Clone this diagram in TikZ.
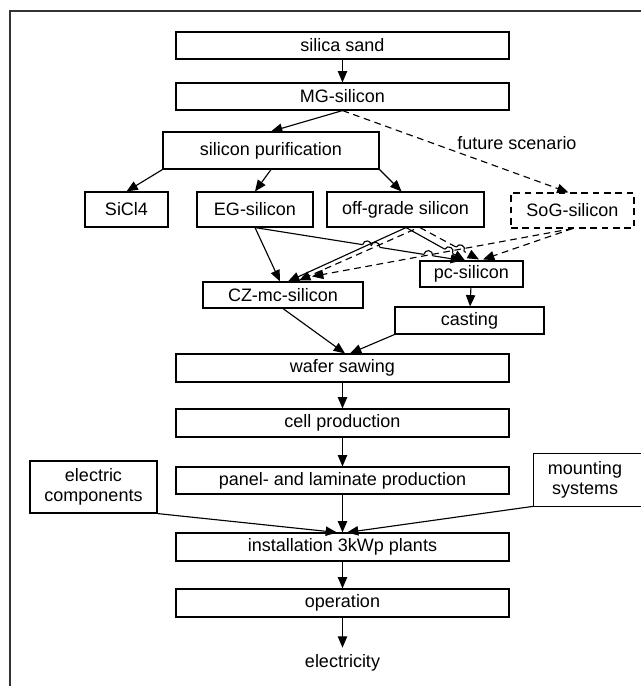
\documentclass[tikz,border=0pt]{standalone}
\usepackage{fontspec}
\setmainfont{Liberation Sans}
\usetikzlibrary{arrows.meta,calc,intersections}
\newcommand\linehop[4]{%
  \path[name intersections={of=#1 and #2, by=hp}];
  \coordinate (hA) at ($(hp)!3.3pt!(#3)$);
  \coordinate (hB) at ($(hp)!3.3pt!(#4)$);
  \draw[white,line width=2.8pt] (hA) -- (hB);
  \draw[line width=0.85pt] (hA) .. controls ($(hA)!4.4pt!90:(hB)$) and ($(hB)!4.4pt!-90:(hA)$) .. (hB);
}
\begin{document}
\begin{tikzpicture}[x=0.75pt,y=-0.75pt,
  font=\fontsize{13.5pt}{15pt}\selectfont,
  every node/.style={inner sep=0pt},
  box/.style 2 args={draw=black,line width=0.85pt,rectangle,align=center,
    minimum width=#1*0.75pt,minimum height=#2*0.75pt},
  dbox/.style 2 args={box={#1}{#2},dash pattern=on 5pt off 3.5pt},
  con/.style={line width=0.85pt,-{Triangle[length=8.5pt,width=7pt]}},
  dcon/.style={con,dash pattern=on 5pt off 3.5pt}]
\useasboundingbox (0,0) rectangle (640,686);
\draw[line width=0.85pt,draw=black!80] (660,11) -- (10,11) -- (10,700);

% main column
\node[box={333}{27}] (sand) at (342.5,45.5) {silica sand};
\node[box={333}{27}] (mg) at (342.5,96.5) {MG-silicon};
\node[box={216}{37}] (pur) at (271,150.5) {silicon purification};
\node[box={83}{35}] (sicl) at (126.5,209.5) {SiCl4};
\node[box={116}{35}] (eg) at (255,209.5) {EG-silicon};
\node[box={157}{35}] (og) at (405.5,209.5) {off-grade silicon};
\node[dbox={123}{35}] (sog) at (572.5,210.5) {SoG-silicon};
\node (fut) at (517,143) {future scenario};
\node[box={160}{26}] (cz) at (283,295) {CZ-mc-silicon};
\node[box={103}{26}] (pc) at (471.5,274) {pc-silicon};
\node[box={149}{27}] (cast) at (469.5,320.5) {casting};
\node[box={333}{28}] (wafer) at (342.5,368) {wafer sawing};
\node[box={333}{28}] (cell) at (342.5,423) {cell production};
\node[box={333}{27}] (panel) at (342.5,480.5) {panel- and laminate production};
\node[box={333}{28}] (inst) at (342.5,547) {installation 3kWp plants};
\node[box={333}{28}] (oper) at (342.5,603) {operation};
\node[inner sep=5pt] (elec) at (342.5,663) {electricity};
\node[box={127}{52}] (ec) at (93.5,487) {electric\\components};
\node[align=center,minimum width=102*0.75pt,minimum height=52*0.75pt] (ms) at (585,480) {mounting\\systems};
\draw[line width=0.85pt] ($(ms.north west)+(130,0)$) -- (ms.north west) -- (ms.south west) -- ++(130,0);

% simple connectors
\draw[con] (sand) -- (mg);
\draw[con] (mg.south) -- (pur.north);
\draw[dcon] (mg.south) -- ($(sog.north)+(-4,0)$);
\draw[con] (pur.south west) -- (sicl.north);
\draw[con] (pur.south) -- (eg.north);
\draw[con] (pur.south east) -- ($(og.north)+(-4,0)$);
\draw[con] (pc) -- (cast);
\draw[con] (cz.south) -- ($(wafer.north)+(2.5,0)$);
\draw[con] (cast.south west) -- ($(wafer.north)+(7.5,0)$);
\draw[con] (wafer) -- (cell);
\draw[con] (cell) -- (panel);
\draw[con] (panel) -- (inst);
\draw[con] (ec.south east) -- ($(inst.north)+(-5.5,0)$);
\draw[con] (ms.south west) -- ($(inst.north)+(4.5,0)$);
\draw[con] (inst) -- (oper);
\draw[con] (oper) -- (elec);

% crossing region coordinates
\coordinate (egS) at (eg.south);
\coordinate (ogA) at ($(og.south)+(0.5,0)$);
\coordinate (ogB) at ($(og.south)+(8.5,2)$);
\coordinate (ogC) at ($(og.south)+(14.5,0)$);
\coordinate (sogS) at (sog.south);
\coordinate (czE) at ($(cz.north)+(-3,0)$);
\coordinate (czC1) at ($(cz.north)+(5,0)$);
\coordinate (czC2) at ($(cz.north)+(16,-1)$);
\coordinate (czC3) at ($(cz.north)+(29,-5)$);
\coordinate (pcJ1) at ($(pc.north)+(-9.5,0)$);
\coordinate (pcJ2) at ($(pc.north)+(-6.5,0)$);
\coordinate (pcJ3) at ($(pc.north)+(7.5,-1)$);
\coordinate (pcS2) at ($(pc.north)+(11.5,-1)$);

\path[name path=J1] (egS) -- (pcJ1);
\path[name path=J2] (ogA) -- (pcJ2);
\path[name path=J3] (ogC) -- (pcJ3);
\path[name path=C1] (ogA) -- (czC1);
\path[name path=C2] (ogB) -- (czC2);
\path[name path=C3] (sogS) -- (czC3);

\draw[con] (egS) -- (czE);
\draw[con] (egS) -- (pcJ1);
\draw[con] (ogA) -- (pcJ2);
\draw[dcon] (ogC) -- (pcJ3);
\draw[dcon] (sogS) -- (pcS2);

\linehop{J1}{C1}{egS}{pcJ1}
\linehop{J1}{C2}{egS}{pcJ1}
\linehop{J1}{C3}{egS}{pcJ1}
\linehop{J2}{C3}{ogA}{pcJ2}
\linehop{J3}{C3}{ogC}{pcJ3}

\draw[con] (ogA) -- (czC1);
\draw[dcon] (ogB) -- (czC2);
\draw[dcon] (sogS) -- (czC3);
\end{tikzpicture}
\end{document}
